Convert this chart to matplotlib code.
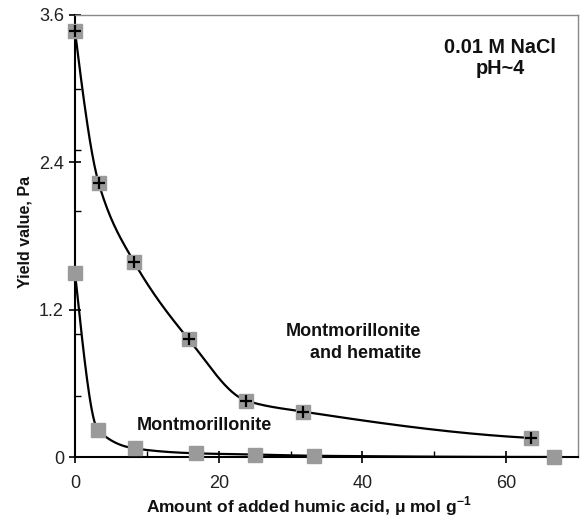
import numpy as np
import matplotlib
matplotlib.use("Agg")
import matplotlib.pyplot as plt
from matplotlib.ticker import FixedLocator

plt.rcParams['font.family'] = ['Liberation Sans', 'DejaVu Sans']
plt.rcParams['mathtext.fontset'] = 'custom'
plt.rcParams['mathtext.rm'] = 'Liberation Sans'
plt.rcParams['mathtext.bf'] = 'Liberation Sans:bold'

# Data
mh_x = [0.0, 3.3, 8.2, 15.8, 23.8, 31.7, 63.5]
mh_y = [3.47, 2.23, 1.59, 0.96, 0.46, 0.37, 0.155]
m_x = [0.0, 3.2, 8.3, 16.8, 25.1, 33.2, 66.7]
m_y = [1.50, 0.22, 0.07, 0.03, 0.02, 0.01, 0.0]

x_ticks = [0, 20, 40, 60]
y_ticks = [0, 1.2, 2.4, 3.6]
x_label = "Amount of added humic acid, \u03bc mol g$^{\\mathbf{-1}}$"
y_label = "Yield value, Pa"
cond_text = "0.01 M NaCl\npH~4"
mh_text = "Montmorillonite\nand hematite"
m_text = "Montmorillonite"


def pchip(x, y, xs):
    x = np.asarray(x, float); y = np.asarray(y, float)
    h = np.diff(x); delta = np.diff(y) / h
    n = len(x)
    d = np.zeros(n)
    for k in range(1, n - 1):
        if delta[k - 1] * delta[k] > 0:
            w1 = 2 * h[k] + h[k - 1]
            w2 = h[k] + 2 * h[k - 1]
            d[k] = (w1 + w2) / (w1 / delta[k - 1] + w2 / delta[k])
    def endslope(h0, h1, d0, d1):
        s = ((2 * h0 + h1) * d0 - h0 * d1) / (h0 + h1)
        if np.sign(s) != np.sign(d0):
            s = 0.0
        elif np.sign(d0) != np.sign(d1) and abs(s) > abs(3 * d0):
            s = 3 * d0
        return s
    d[0] = endslope(h[0], h[1], delta[0], delta[1])
    d[-1] = endslope(h[-1], h[-2], delta[-1], delta[-2])
    ys = np.empty_like(xs)
    idx = np.clip(np.searchsorted(x, xs) - 1, 0, n - 2)
    for i, (xv, k) in enumerate(zip(xs, idx)):
        t = (xv - x[k]) / h[k]
        h00 = 2 * t**3 - 3 * t**2 + 1
        h10 = t**3 - 2 * t**2 + t
        h01 = -2 * t**3 + 3 * t**2
        h11 = t**3 - t**2
        ys[i] = h00 * y[k] + h10 * h[k] * d[k] + h01 * y[k + 1] + h11 * h[k] * d[k + 1]
    return ys


fig = plt.figure(figsize=(5.84, 5.19), dpi=100)
ax = fig.add_axes([75 / 584, 1 - 457 / 519, 503 / 584, 442 / 519])

xs1 = np.linspace(mh_x[0], mh_x[-1], 400)
ax.plot(xs1, pchip(mh_x, mh_y, xs1), color='black', lw=1.6, zorder=3)
xs2 = np.linspace(m_x[0], m_x[-1], 400)
ax.plot(xs2, pchip(m_x, m_y, xs2), color='black', lw=1.6, zorder=3)

ax.plot(mh_x, mh_y, linestyle='none', marker='s', ms=9.5, color='#9a9a9a',
        mec='#9a9a9a', zorder=4, clip_on=False)
ax.plot(mh_x, mh_y, linestyle='none', marker='+', ms=8, mew=1.6, color='black',
        zorder=5, clip_on=False)
ax.plot(m_x, m_y, linestyle='none', marker='s', ms=9.5, color='#9a9a9a',
        mec='#9a9a9a', zorder=4, clip_on=False)

ax.set_xlim(0, 70)
ax.set_ylim(0, 3.6)
ax.xaxis.set_major_locator(FixedLocator(x_ticks))
ax.xaxis.set_minor_locator(FixedLocator([10, 30, 50]))
ax.yaxis.set_major_locator(FixedLocator(y_ticks))
ax.yaxis.set_minor_locator(FixedLocator([0.5, 1.0, 2.0, 2.5, 3.0]))
ax.set_yticklabels([f"{v:g}" for v in y_ticks])
ax.set_xticklabels([str(v) for v in x_ticks])

ax.tick_params(which='major', direction='inout', length=8, width=1.2,
               labelsize=13, labelcolor='#222222', color='black')
ax.tick_params(axis='y', which='major', pad=4)
ax.tick_params(axis='x', which='major', pad=9)
ax.tick_params(which='minor', direction='in', length=4, width=1.0, color='black')

for s in ['left', 'bottom']:
    ax.spines[s].set_linewidth(1.5)
    ax.spines[s].set_color('black')
for s in ['top', 'right']:
    ax.spines[s].set_linewidth(1.0)
    ax.spines[s].set_color('#888888')

ax.set_xlabel(x_label, fontsize=12.5, fontweight='bold', color='#111111')
ax.xaxis.set_label_coords(0.465, -0.112)
ax.xaxis.label.set_va('center')
ax.set_ylabel(y_label, fontsize=11.5, fontweight='bold', color='#111111')
ax.yaxis.set_label_coords(-0.099, 0.509)
ax.yaxis.label.set_va('center')

ax.text(59.2, 3.25, cond_text, ha='center', va='center', fontsize=14.3,
        fontweight='bold', color='#111111', linespacing=1.15)
ax.text(48.2, 0.93, mh_text, ha='right', va='center', multialignment='right',
        fontsize=13, fontweight='bold', color='#111111', linespacing=1.4)
ax.text(18.06, 0.26, m_text, ha='center', va='center', fontsize=13,
        fontweight='bold', color='#111111')

fig.savefig('out.png', dpi=100)
